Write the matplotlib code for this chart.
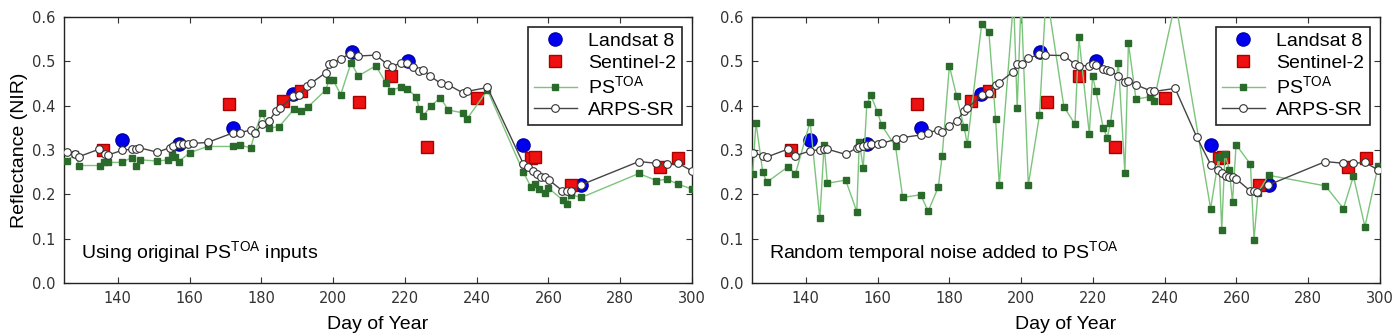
import matplotlib
matplotlib.use("Agg")
import matplotlib.pyplot as plt

# Landsat 8 and Sentinel-2 observations (same in both panels)
landsat_doy = [141.1, 157.0, 172.1, 188.9, 205.2, 220.9, 253.0, 269.0]
landsat_nir = [0.323, 0.313, 0.349, 0.426, 0.520, 0.501, 0.311, 0.221]

s2_doy = [135.9, 171.1, 186.1, 191.0, 207.2, 216.1, 226.1, 240.0, 255.1, 256.2, 266.2, 291.1, 296.2]
s2_nir = [0.300, 0.404, 0.411, 0.432, 0.409, 0.467, 0.306, 0.418, 0.281, 0.285, 0.221, 0.261, 0.281]

# left panel: original PS TOA and the ARPS-SR result
ps_doy = [125.9, 128.2, 129.2, 135.0, 136.1, 137.2, 141.1, 143.9, 145.1, 146.2,
          151.0, 154.1, 155.0, 155.9, 157.0, 160.1, 165.0, 172.0, 174.0, 177.0,
          178.2, 180.1, 182.1, 185.0, 189.1, 191.0, 193.1, 197.9, 198.9, 200.0,
          202.1, 205.0, 207.0, 211.9, 214.8, 216.1, 218.8, 220.7, 223.1, 224.0,
          225.1, 227.2, 229.9, 232.1, 236.1, 237.2, 243.0, 253.0, 255.1, 256.2,
          257.5, 259.0, 260.0, 264.0, 265.1, 266.2, 269.2, 285.2, 290.1, 292.9,
          296.2, 299.9]
ps_nir = [0.276, 0.291, 0.265, 0.265, 0.272, 0.272, 0.272, 0.283, 0.265, 0.278,
          0.275, 0.278, 0.294, 0.284, 0.274, 0.294, 0.308, 0.308, 0.311, 0.305,
          0.338, 0.384, 0.349, 0.353, 0.392, 0.388, 0.398, 0.435, 0.459, 0.458,
          0.425, 0.497, 0.467, 0.490, 0.450, 0.434, 0.442, 0.438, 0.420, 0.392,
          0.377, 0.399, 0.418, 0.390, 0.384, 0.369, 0.435, 0.250, 0.217, 0.223,
          0.211, 0.204, 0.214, 0.187, 0.178, 0.199, 0.193, 0.247, 0.231, 0.234,
          0.223, 0.212]

arps_doy = [125.9, 128.1, 129.2, 134.8, 136.4, 137.4, 141.1, 143.9, 145.1, 146.0,
            151.0, 154.4, 155.3, 157.0, 158.1, 159.6, 161.0, 165.0, 172.2, 174.0,
            177.0, 178.2, 180.1, 182.2, 184.1, 185.2, 188.9, 190.6, 192.6, 193.7,
            197.9, 198.9, 200.0, 202.1, 204.7, 207.0, 211.9, 215.1, 216.3, 219.0,
            220.7, 222.3, 224.0, 225.1, 227.0, 230.0, 232.1, 236.1, 237.2, 243.0,
            253.0, 254.4, 255.6, 256.7, 258.0, 259.1, 260.2, 263.9, 265.1, 266.2,
            269.0, 285.2, 290.1, 292.9, 296.2, 299.9]
arps_nir = [0.296, 0.290, 0.285, 0.302, 0.290, 0.289, 0.299, 0.302, 0.303, 0.305,
            0.295, 0.305, 0.308, 0.314, 0.314, 0.314, 0.315, 0.317, 0.339, 0.339,
            0.345, 0.338, 0.358, 0.366, 0.389, 0.394, 0.422, 0.424, 0.444, 0.450,
            0.474, 0.494, 0.496, 0.506, 0.517, 0.512, 0.514, 0.493, 0.488, 0.497,
            0.496, 0.488, 0.479, 0.481, 0.467, 0.450, 0.447, 0.429, 0.432, 0.441,
            0.269, 0.261, 0.253, 0.246, 0.240, 0.238, 0.232, 0.208, 0.208, 0.208,
            0.221, 0.274, 0.270, 0.268, 0.270, 0.253]

# right panel: PS TOA with random temporal noise, and the ARPS-SR result
ps_noisy_doy = [125.2, 126.1, 128.0, 129.1, 135.0, 137.1, 141.2, 143.9, 145.1, 146.0,
                151.1, 154.2, 154.9, 156.0, 157.0, 158.1, 160.0, 161.1, 165.0, 167.0,
                172.0, 174.1, 176.9, 178.0, 180.0, 182.0, 184.1, 185.0, 189.0, 191.0,
                192.9, 193.9, 197.9, 198.9, 200.0, 202.0, 205.1, 207.0, 211.9, 215.0,
                216.1, 219.0, 219.9, 220.8, 222.9, 224.0, 224.9, 227.1, 228.9, 229.9,
                232.0, 235.9, 237.0, 243.0, 252.8, 255.1, 255.9, 256.8, 258.0, 258.9,
                259.9, 263.9, 264.9, 266.0, 269.0, 284.8, 289.8, 292.6, 295.8, 299.5]
ps_noisy_nir = [0.246, 0.362, 0.250, 0.227, 0.262, 0.246, 0.364, 0.146, 0.311, 0.225,
                0.232, 0.161, 0.319, 0.259, 0.403, 0.424, 0.385, 0.356, 0.308, 0.193,
                0.199, 0.162, 0.216, 0.287, 0.490, 0.422, 0.351, 0.313, 0.584, 0.567,
                0.369, 0.220, 0.640, 0.395, 0.640, 0.221, 0.378, 0.660, 0.398, 0.358,
                0.554, 0.336, 0.468, 0.434, 0.349, 0.328, 0.362, 0.497, 0.249, 0.541,
                0.415, 0.420, 0.411, 0.635, 0.168, 0.285, 0.120, 0.291, 0.256, 0.183,
                0.312, 0.268, 0.098, 0.204, 0.243, 0.219, 0.168, 0.241, 0.127, 0.265]

arps_noisy_doy = [125.2, 128.0, 129.1, 135.0, 137.1, 141.2, 143.9, 145.1, 146.0, 151.1,
                  154.2, 154.9, 156.0, 157.0, 158.1, 160.0, 161.1, 165.0, 167.0, 172.0,
                  174.1, 176.9, 178.0, 180.0, 182.0, 184.1, 185.0, 189.0, 191.0, 192.9,
                  193.9, 197.8, 198.9, 200.1, 202.0, 205.1, 206.6, 212.0, 215.0, 216.1,
                  219.0, 219.9, 220.8, 222.9, 224.0, 224.9, 227.1, 228.9, 229.9, 232.0,
                  235.9, 237.0, 242.9, 248.9, 252.9, 254.9, 255.9, 257.0, 258.0, 258.9,
                  259.9, 263.8, 264.9, 265.8, 268.9, 284.8, 289.8, 292.6, 295.8, 299.5]
arps_noisy_nir = [0.294, 0.287, 0.284, 0.302, 0.287, 0.298, 0.301, 0.302, 0.302, 0.290,
                  0.305, 0.307, 0.309, 0.311, 0.313, 0.313, 0.315, 0.324, 0.328, 0.334,
                  0.339, 0.345, 0.340, 0.355, 0.366, 0.387, 0.394, 0.424, 0.428, 0.447,
                  0.452, 0.477, 0.494, 0.494, 0.507, 0.516, 0.514, 0.513, 0.493, 0.490,
                  0.490, 0.495, 0.492, 0.483, 0.481, 0.479, 0.467, 0.454, 0.456, 0.447,
                  0.434, 0.432, 0.439, 0.330, 0.266, 0.256, 0.249, 0.242, 0.238, 0.238,
                  0.235, 0.208, 0.208, 0.206, 0.221, 0.274, 0.270, 0.270, 0.272, 0.255]

x_ticks = [140, 160, 180, 200, 220, 240, 260, 280, 300]
y_ticks = [0.0, 0.1, 0.2, 0.3, 0.4, 0.5, 0.6]

LABEL_FONT = ["Liberation Sans", "DejaVu Sans"]
plt.rcParams["mathtext.default"] = "regular"


def draw_panel(ax, ps_x, ps_y, sr_x, sr_y, note, show_ylabel):
    ax.plot(landsat_doy, landsat_nir, "o", color="#0000ee", mec="#0000aa",
            ms=9.5, label="Landsat 8", zorder=3)
    ax.plot(s2_doy, s2_nir, "s", color="#ee1111", mec="#aa0000",
            ms=8, label="Sentinel-2", zorder=3)
    ax.plot(ps_x, ps_y, "-s", color="#7cc47c", lw=1, ms=4.5,
            mfc="#2a6a2a", mec="#2a6a2a", label="PS$^{TOA}$", zorder=4)
    ax.plot(sr_x, sr_y, "-o", color="#444444", lw=1, ms=5.5,
            mfc="white", mec="#333333", mew=0.8, label="ARPS-SR", zorder=5)

    ax.set_xlim(125, 300)
    ax.set_ylim(0, 0.6)
    ax.set_xticks(x_ticks)
    ax.set_yticks(y_ticks)
    ax.set_yticklabels(["%.1f" % v for v in y_ticks])
    ax.tick_params(direction="in", top=True, right=True, length=4,
                   labelsize=10.5, labelcolor="#333333", color="#333333", pad=6)
    for s in ax.spines.values():
        s.set_color("#222222")
        s.set_linewidth(1)

    ax.set_xlabel("Day of Year", fontsize=14, family=LABEL_FONT, labelpad=7)
    if show_ylabel:
        ax.set_ylabel("Reflectance (NIR)", fontsize=14, family=LABEL_FONT, labelpad=3)

    ax.text(0.027, 0.094, note, transform=ax.transAxes, fontsize=14,
            family=LABEL_FONT, va="baseline")

    leg = ax.legend(loc="upper right", numpoints=1,
                    prop={"family": LABEL_FONT, "size": 14},
                    fancybox=False, framealpha=1, edgecolor="#222222",
                    borderpad=0.3, labelspacing=0.2, handlelength=2.2,
                    handletextpad=0.6, borderaxespad=0.5)
    leg.get_frame().set_linewidth(1.2)


fig = plt.figure(figsize=(13.99, 3.33), dpi=100)
ax1 = fig.add_axes([64 / 1399, 50 / 333, 628 / 1399, 266 / 333])
ax2 = fig.add_axes([752 / 1399, 50 / 333, 628 / 1399, 266 / 333])

draw_panel(ax1, ps_doy, ps_nir, arps_doy, arps_nir,
           "Using original PS$^{TOA}$ inputs", True)
draw_panel(ax2, ps_noisy_doy, ps_noisy_nir, arps_noisy_doy, arps_noisy_nir,
           "Random temporal noise added to PS$^{TOA}$", False)

fig.savefig("out.png", dpi=100)
